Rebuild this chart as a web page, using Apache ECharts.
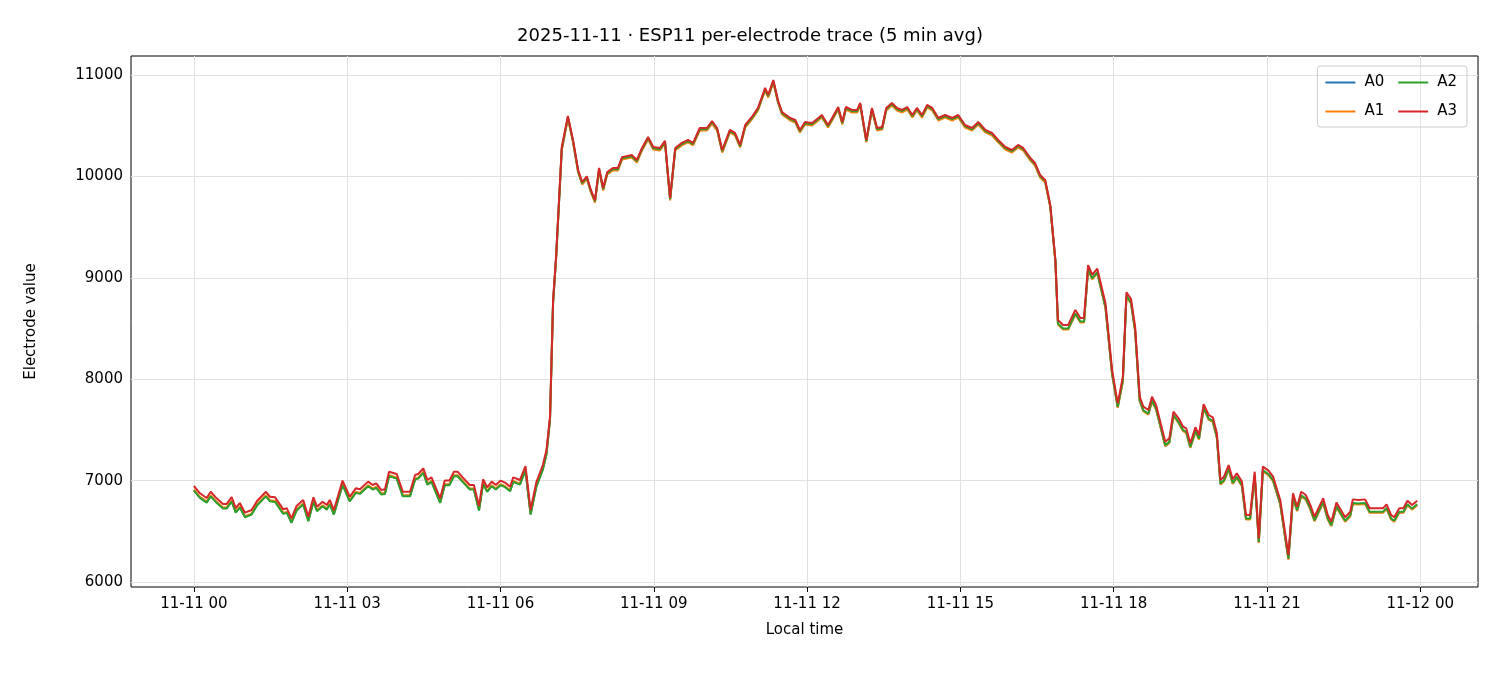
<!DOCTYPE html>
<html>
<head>
<meta charset="utf-8">
<script src="https://cdn.jsdelivr.net/npm/echarts@6/dist/echarts.min.js"></script>
<style>html,body{margin:0;padding:0;background:#fff}#c{width:1500px;height:675px}</style>
</head>
<body>
<div id="c"></div>
<script>
// hours since 11-11 00:00
var times = [0.00,0.12,0.25,0.33,0.44,0.57,0.64,0.74,0.82,0.90,1.00,1.13,1.24,1.41,1.49,1.59,1.75,1.82,1.91,2.01,2.14,2.24,2.34,2.41,2.52,2.60,2.66,2.74,2.91,3.05,3.17,3.25,3.41,3.50,3.57,3.67,3.74,3.82,3.97,4.09,4.23,4.33,4.39,4.49,4.57,4.65,4.82,4.91,5.00,5.09,5.16,5.26,5.40,5.48,5.58,5.66,5.74,5.83,5.91,6.00,6.09,6.19,6.25,6.38,6.49,6.59,6.70,6.83,6.90,6.97,
  7.03,7.09,7.20,7.32,7.42,7.52,7.60,7.69,7.77,7.85,7.93,8.01,8.09,8.20,8.30,8.38,8.57,8.67,8.77,8.89,8.99,9.12,9.22,9.32,9.42,9.55,9.67,9.77,9.90,10.04,10.14,10.24,10.34,10.49,10.59,10.69,10.79,10.92,11.04,11.18,11.24,11.34,11.43,11.51,11.67,11.77,11.86,11.96,12.10,12.22,12.29,12.41,12.49,12.61,12.69,12.76,12.88,12.98,13.04,13.16,13.27,13.37,13.47,13.55,13.66,13.76,13.86,13.96,14.06,14.15,14.25,14.35,14.45,14.57,14.70,14.84,14.96,15.09,15.23,15.35,15.49,15.62,15.74,15.88,16.01,16.13,16.23,16.37,16.46,16.56,16.66,16.76,16.86,16.91,17.01,17.11,17.25,17.35,17.42,17.50,17.58,17.68,17.84,17.97,18.08,18.18,18.25,18.34,18.42,18.51,18.58,18.68,18.75,18.83,19.01,19.09,19.17,19.27,19.36,19.42,19.50,19.60,19.67,19.76,19.86,19.94,20.02,20.09,20.16,20.25,20.33,20.41,20.51,20.59,20.67,20.76,20.84,20.92,21.03,21.12,21.26,21.42,21.51,21.59,21.67,21.76,21.85,21.93,22.10,22.19,22.26,22.36,22.53,22.63,22.68,22.79,22.92,23.01,23.15,23.27,23.34,23.43,23.49,23.59,23.67,23.75,23.84,23.94];

var a3 = [6947,6875,6828,6890,6828,6769,6769,6838,6730,6779,6684,6710,6802,6890,6841,6835,6717,6727,6628,6750,6809,6645,6835,6743,6792,6759,6809,6710,7000,6841,6924,6914,6990,6957,6973,6907,6914,7088,7065,6890,6890,7055,7065,7121,7006,7032,6825,7000,7000,7088,7088,7032,6957,6957,6750,7013,6934,6990,6957,7000,6980,6940,7032,7006,7144,6710,6980,7154,7302,7630,
  8780,9225,10290,10596,10360,10063,9945,10000,9866,9767,10083,9886,10043,10083,10083,10190,10211,10162,10280,10389,10290,10280,10350,9787,10280,10330,10360,10330,10477,10477,10546,10477,10260,10458,10428,10310,10507,10586,10675,10872,10803,10950,10753,10635,10576,10556,10458,10536,10527,10576,10605,10507,10576,10684,10536,10684,10655,10655,10724,10360,10675,10477,10487,10675,10724,10675,10655,10684,10605,10675,10605,10704,10675,10576,10605,10576,10605,10507,10477,10536,10458,10428,10360,10290,10260,10310,10280,10181,10132,10014,9965,9718,9176,8584,8535,8535,8683,8604,8604,9126,9030,9090,8748,8090,7762,8025,8857,8791,8518,7828,7729,7696,7828,7746,7384,7417,7680,7614,7532,7516,7368,7526,7450,7755,7647,7624,7466,7006,7039,7154,7013,7072,6990,6661,6661,7088,6431,7138,7098,7039,6809,6266,6875,6743,6890,6858,6759,6644,6825,6661,6595,6783,6639,6694,6815,6809,6815,6727,6727,6727,6766,6661,6639,6727,6727,6802,6759,6802];

// how far each trace sits below A3, per stretch of the day
var gapEnds = [6.95, 7.3, 16.9, 24];
var gapA0 = [40, 25, 15, 40];
var gapA1 = [35, 30, 25, 45];
var gapA2 = [45, 20, 12, 35];

var tickHours = [0, 3, 6, 9, 12, 15, 18, 21, 24];
var yTicks = [6000, 7000, 8000, 9000, 10000, 11000];
var names = ['A0', 'A1', 'A2', 'A3'];
var colors = ['#1f77b4', '#ff7f0e', '#2ca02c', '#d62728'];

function gapAt(gaps, t) {
    for (var k = 0; k < gapEnds.length; k++) {
        if (t <= gapEnds[k]) return gaps[k];
    }
    return gaps[gaps.length - 1];
}

function makeSeries(gaps) {
    var out = [];
    for (var i = 0; i < times.length; i++) {
        out.push([times[i], a3[i] - (gaps ? gapAt(gaps, times[i]) : 0)]);
    }
    return out;
}

function pad(n) { return (n < 10 ? '0' : '') + n; }

var chart = echarts.init(document.getElementById('c'));
var gridLines = [];
tickHours.forEach(function (h) { gridLines.push({ xAxis: h }); });
yTicks.forEach(function (v) { gridLines.push({ yAxis: v }); });

var datas = [makeSeries(gapA0), makeSeries(gapA1), makeSeries(gapA2), makeSeries(null)];
var series = datas.map(function (d, i) {
    var s = {
        name: names[i], type: 'line', data: d, showSymbol: false, symbol: 'none',
        lineStyle: { width: 2, color: colors[i] }, itemStyle: { color: colors[i] },
        animation: false, z: 3 + i
    };
    if (i === 0) {
        s.markLine = {
            silent: true, symbol: 'none', label: { show: false },
            lineStyle: { color: '#e0e0e0', width: 1, type: 'solid' },
            data: gridLines, z: 1
        };
    }
    return s;
});

var font = 'DejaVu Sans';
chart.setOption({
    animation: false,
    title: {
        text: '2025-11-11 · ESP11 per-electrode trace (5 min avg)',
        left: 'center', top: 22,
        textStyle: { fontFamily: font, fontSize: 18, fontWeight: 'normal', color: '#000' }
    },
    grid: { left: 131, right: 22, top: 56, bottom: 88, show: true, borderColor: '#000', borderWidth: 1 },
    legend: {
        data: names, orient: 'vertical', right: 33, top: 66, height: 60,
        itemWidth: 30, itemHeight: 2, icon: 'rect', itemGap: 14,
        padding: [9, 10, 8, 8],
        borderColor: '#ccc', borderWidth: 1, borderRadius: 3,
        textStyle: { fontFamily: font, fontSize: 15, color: '#000', padding: [0, 18, 0, 4] }
    },
    xAxis: {
        type: 'value', min: -1.23, max: 25.13,
        name: 'Local time', nameLocation: 'middle', nameGap: 36,
        nameTextStyle: { fontFamily: font, fontSize: 15, color: '#000' },
        axisLine: { show: false },
        axisTick: { show: true, customValues: tickHours, length: 5, lineStyle: { color: '#000' } },
        axisLabel: {
            customValues: tickHours, fontFamily: font, fontSize: 15, color: '#000', margin: 10,
            formatter: function (h) { return h >= 24 ? '11-12 00' : '11-11 ' + pad(h); }
        },
        splitLine: { show: false }
    },
    yAxis: {
        type: 'value', min: 5951, max: 11187,
        name: 'Electrode value', nameLocation: 'middle', nameGap: 92,
        nameTextStyle: { fontFamily: font, fontSize: 15, color: '#000' },
        axisLine: { show: false },
        axisTick: { show: true, customValues: yTicks, length: 5, lineStyle: { color: '#000' } },
        axisLabel: {
            customValues: yTicks, fontFamily: font, fontSize: 15, color: '#000', margin: 8,
            formatter: function (v) { return String(v); }
        },
        splitLine: { show: false }
    },
    series: series
});
</script>
</body>
</html>
